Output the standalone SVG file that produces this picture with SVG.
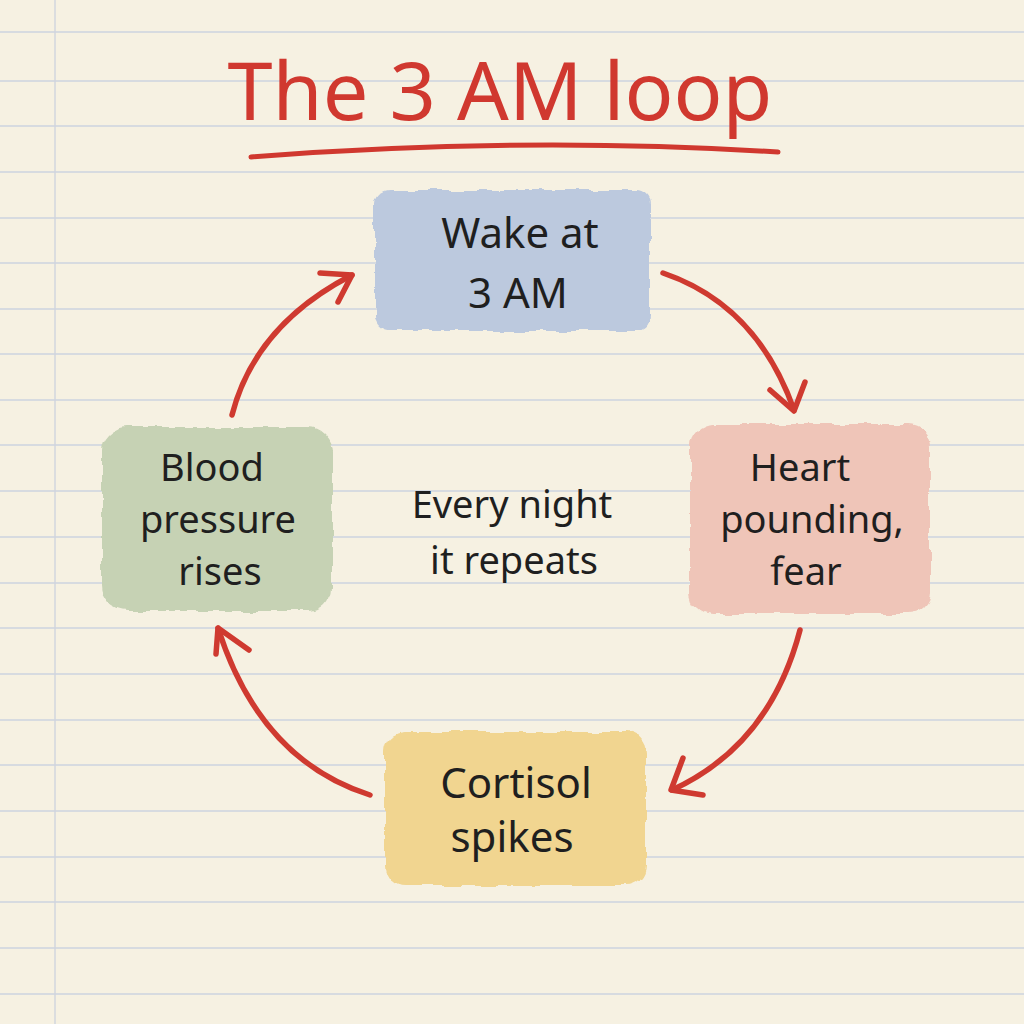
<svg xmlns="http://www.w3.org/2000/svg" width="1024" height="1024" viewBox="0 0 1024 1024">
<defs>
<style>
.rule{stroke:#cdd3df;stroke-width:1.5}
.hand{font-family:"Noto Sans","Open Sans",sans-serif;fill:#1f1f1f;text-anchor:middle}
.node{font-size:42px}
.node3{font-size:38px}
.mid{font-size:38px}
.title{font-family:"Noto Sans","Open Sans",sans-serif;fill:#d0382f;font-size:80px;text-anchor:middle}
.arrow{fill:none;stroke:#cf3a30;stroke-width:5.5;stroke-linecap:round;stroke-linejoin:round}
</style>
<filter id="rough" x="-10%" y="-10%" width="120%" height="120%">
<feTurbulence type="fractalNoise" baseFrequency="0.05" numOctaves="3" seed="4" result="n"/>
<feDisplacementMap in="SourceGraphic" in2="n" scale="8" xChannelSelector="R" yChannelSelector="G"/>
</filter>
</defs>
<rect width="1024" height="1024" fill="#f6f1e2"/>
<g id="paper">
<line class="rule" x1="0" y1="32" x2="1024" y2="32"/>
<line class="rule" x1="0" y1="81" x2="1024" y2="81"/>
<line class="rule" x1="0" y1="126" x2="1024" y2="126"/>
<line class="rule" x1="0" y1="172" x2="1024" y2="172"/>
<line class="rule" x1="0" y1="218" x2="1024" y2="218"/>
<line class="rule" x1="0" y1="263" x2="1024" y2="263"/>
<line class="rule" x1="0" y1="309" x2="1024" y2="309"/>
<line class="rule" x1="0" y1="354" x2="1024" y2="354"/>
<line class="rule" x1="0" y1="400" x2="1024" y2="400"/>
<line class="rule" x1="0" y1="445" x2="1024" y2="445"/>
<line class="rule" x1="0" y1="491" x2="1024" y2="491"/>
<line class="rule" x1="0" y1="537" x2="1024" y2="537"/>
<line class="rule" x1="0" y1="583" x2="1024" y2="583"/>
<line class="rule" x1="0" y1="628" x2="1024" y2="628"/>
<line class="rule" x1="0" y1="674" x2="1024" y2="674"/>
<line class="rule" x1="0" y1="720" x2="1024" y2="720"/>
<line class="rule" x1="0" y1="765" x2="1024" y2="765"/>
<line class="rule" x1="0" y1="811" x2="1024" y2="811"/>
<line class="rule" x1="0" y1="857" x2="1024" y2="857"/>
<line class="rule" x1="0" y1="902" x2="1024" y2="902"/>
<line class="rule" x1="0" y1="948" x2="1024" y2="948"/>
<line class="rule" x1="0" y1="994" x2="1024" y2="994"/>
<line x1="55" y1="0" x2="55" y2="1024" stroke="#d0d5de" stroke-width="1.4"/>
</g>
<g id="title">
<text class="title" x="500" y="120" textLength="545" lengthAdjust="spacingAndGlyphs">The 3 AM loop</text>
<path d="M251 157 Q520 136 778 152" fill="none" stroke="#d0382f" stroke-width="5" stroke-linecap="round"/>
</g>
<g id="connectors">
<path class="arrow" d="M663 273 Q757 305 794 410"/>
<path class="arrow" d="M770 390 L794 411 L805 382"/>
<path class="arrow" d="M800 630 Q770 745 672 790"/>
<path class="arrow" d="M683 758 L671 790 L703 795"/>
<path class="arrow" d="M370 795 Q260 760 218 628"/>
<path class="arrow" d="M216 654 L218 628 L249 650"/>
<path class="arrow" d="M232 415 Q255 325 352 275"/>
<path class="arrow" d="M320 273 L352 275 L338 302"/>
</g>
<g id="node-wake">
<rect x="375" y="190" width="274" height="141" rx="14" fill="#bcc9de" filter="url(#rough)"/>
<text class="hand node" x="520" y="248">Wake at</text>
<text class="hand node" x="518" y="308">3 AM</text>
</g>
<g id="node-heart">
<rect x="690" y="424" width="240" height="190" rx="22" fill="#efc5b8" filter="url(#rough)"/>
<text class="hand node3" x="800" y="481">Heart</text>
<text class="hand node3" x="812" y="533">pounding,</text>
<text class="hand node3" x="806" y="585">fear</text>
</g>
<g id="node-cortisol">
<rect x="385" y="732" width="261" height="154" rx="20" fill="#f1d590" filter="url(#rough)"/>
<text class="hand node" x="516" y="798">Cortisol</text>
<text class="hand node" x="512" y="852">spikes</text>
</g>
<g id="node-blood">
<rect x="102" y="427" width="230" height="184" rx="24" fill="#c6d2b4" filter="url(#rough)"/>
<text class="hand node3" x="212" y="481">Blood</text>
<text class="hand node3" x="218" y="533">pressure</text>
<text class="hand node3" x="220" y="585">rises</text>
</g>
<g id="center">
<text class="hand mid" x="512" y="518">Every night</text>
<text class="hand mid" x="514" y="574">it repeats</text>
</g>
</svg>
